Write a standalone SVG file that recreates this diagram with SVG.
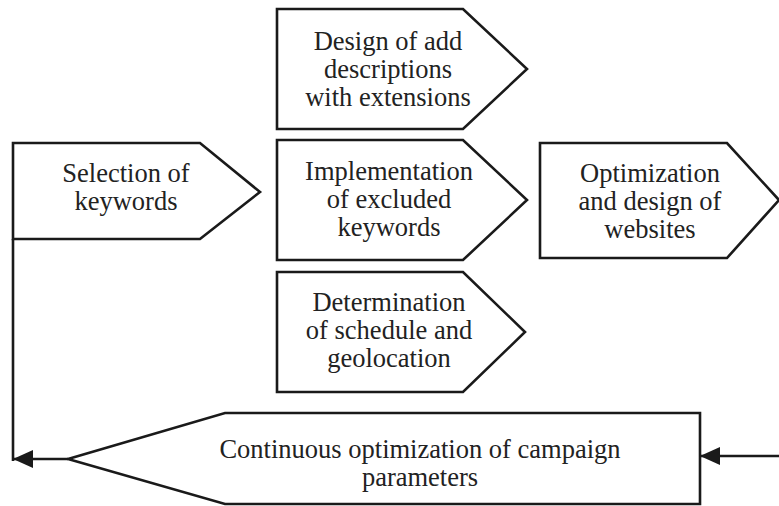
<svg xmlns="http://www.w3.org/2000/svg" width="779" height="506" viewBox="0 0 779 506">
<defs>
<style>
.box{fill:#fff;stroke:#1a1a1a;stroke-width:2.6;stroke-linejoin:miter}
.lbl{font-family:"Liberation Serif","Times New Roman",serif;font-size:26.5px;fill:#222;text-anchor:middle}
.conn{fill:none;stroke:#1a1a1a;stroke-width:2.6}
</style>
<marker id="ah" viewBox="0 0 20 18" refX="20" refY="9" markerWidth="20" markerHeight="18" markerUnits="userSpaceOnUse" orient="auto">
<path d="M0,0 L20,9 L0,18 Z" fill="#1a1a1a"/>
</marker>
</defs>
<rect width="779" height="506" fill="#fff"/>
<g id="selection">
<polygon class="box" points="13,143 200,143 260,192 200,239 13,239"/>
<text class="lbl" x="126" y="182">Selection of</text>
<text class="lbl" x="126" y="210">keywords</text>
</g>
<g id="design">
<polygon class="box" points="277,9 463,9 527,69 463,129 277,129"/>
<text class="lbl" x="388" y="50">Design of add</text>
<text class="lbl" x="388" y="78">descriptions</text>
<text class="lbl" x="388" y="106">with extensions</text>
</g>
<g id="implementation">
<polygon class="box" points="277,140 463,140 527,200 463,260 277,260"/>
<text class="lbl" x="389" y="180">Implementation</text>
<text class="lbl" x="389" y="208">of excluded</text>
<text class="lbl" x="389" y="236">keywords</text>
</g>
<g id="determination">
<polygon class="box" points="277,272 463,272 525,332 463,392 277,392"/>
<text class="lbl" x="389" y="311">Determination</text>
<text class="lbl" x="389" y="339">of schedule and</text>
<text class="lbl" x="389" y="367">geolocation</text>
</g>
<g id="optimization">
<polygon class="box" points="540,143 727,143 779,200 727,258 540,258"/>
<text class="lbl" x="650" y="182">Optimization</text>
<text class="lbl" x="650" y="210">and design of</text>
<text class="lbl" x="650" y="238">websites</text>
</g>
<g id="continuous">
<polygon class="box" points="68,459 225,413 700,413 700,504 225,504"/>
<text class="lbl" x="420" y="458">Continuous optimization of campaign</text>
<text class="lbl" x="420" y="486">parameters</text>
</g>
<g id="connectors">
<path class="conn" d="M13,239 V461"/>
<path class="conn" d="M68,459 H13" marker-end="url(#ah)"/>
<path class="conn" d="M779,456 H700" marker-end="url(#ah)"/>
</g>
</svg>
